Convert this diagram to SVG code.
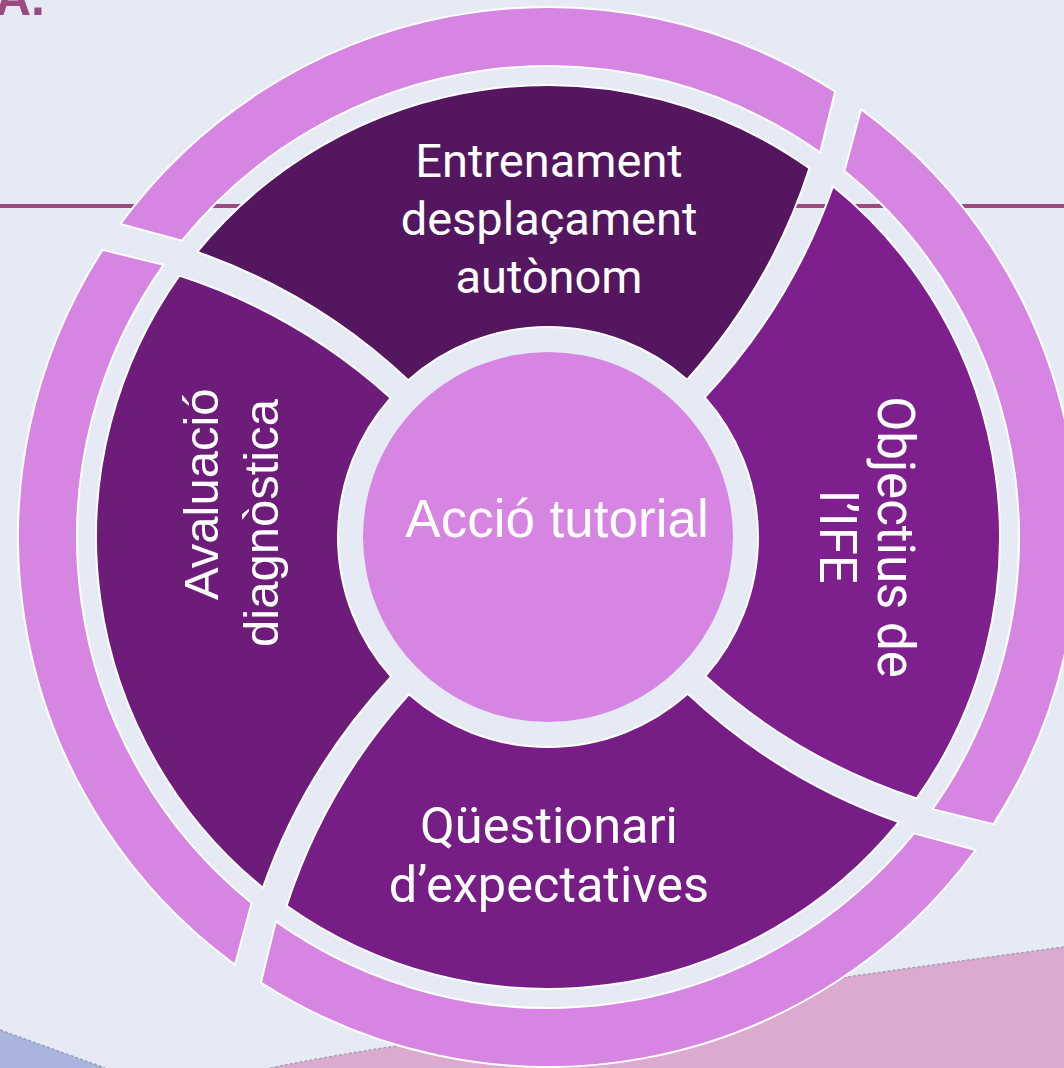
<svg xmlns="http://www.w3.org/2000/svg" width="1064" height="1068" viewBox="0 0 1064 1068">
<style>
.seg{stroke:#fff;stroke-width:2}
.ring{fill:#D685E2;stroke:#fff;stroke-width:2}
.rob{fill:#fff;font-family:Roboto,"Liberation Sans",sans-serif;font-size:47px;text-anchor:middle}
.big{font-size:50.5px}
.rt{font-size:51px}
.ari{fill:#fff;font-family:"Liberation Sans",Arial,sans-serif;font-size:49px}
</style>
<defs>
<path id="seg" d="M704.8,397.3 Q791.2,305.3 833.1,186.2 A452,452 0 0 1 916.7,798.4 Q798.0,759.8 705.3,676.1 A210,210 0 0 0 704.8,397.3 Z"/>
<path id="ringp" d="M844.4,171.0 L861.0,109.3 A530,530 0 0 1 993.5,824.1 L932.4,809.2 A471,471 0 0 0 844.4,171.0 Z"/>
</defs>
<g id="background">
<rect width="1064" height="1068" fill="#E6EAF5"/>
<path d="M0,1030 L105,1068 L0,1068 Z" fill="#AAB5DF"/>
<path d="M0,1030 L105,1068" fill="none" stroke="#9aa0b8" stroke-width="1.5" stroke-dasharray="3 2"/>
<path d="M270,1068 Q330,1056 390,1047 L847,977 Q960,961 1064,947 L1064,1068 Z" fill="#DBAACE"/>
<path d="M270,1068 Q330,1056 390,1047 L847,977 Q960,961 1064,947" fill="none" stroke="#a8a0b0" stroke-width="1.5" stroke-dasharray="3 2"/>
<line x1="0" y1="206" x2="1064" y2="206" stroke="#9B4B7F" stroke-width="4"/>
<text x="-5" y="15" font-family="'Liberation Sans',Arial,sans-serif" font-weight="bold" font-size="50" fill="#9B4B7F">A.</text>
</g>
<g id="ring">
<use href="#ringp" class="ring" transform="rotate(-90 548 537)"/>
<use href="#ringp" class="ring"/>
<use href="#ringp" class="ring" transform="rotate(90 548 537)"/>
<use href="#ringp" class="ring" transform="rotate(180 548 537)"/>
</g>
<g id="connectors"></g>
<g id="node-top">
<use href="#seg" class="seg" fill="#54165E" transform="rotate(-90 548 537)"/>
<text class="rob" x="549" y="177">Entrenament</text>
<text class="rob" x="549" y="235">desplaçament</text>
<text class="rob" x="549" y="293">autònom</text>
</g>
<g id="node-right">
<use href="#seg" class="seg" fill="#7E1F8E"/>
<text class="rob rt" transform="translate(878,537) rotate(90)">Objectius de</text>
<text class="rob rt" transform="translate(820,537) rotate(90)">l’IFE</text>
</g>
<g id="node-bottom">
<use href="#seg" class="seg" fill="#761E85" transform="rotate(90 548 537)"/>
<text class="rob big" x="549" y="843">Qüestionari</text>
<text class="rob big" x="549" y="902">d’expectatives</text>
</g>
<g id="node-left">
<use href="#seg" class="seg" fill="#6E1C7A" transform="rotate(180 548 537)"/>
<text class="ari" transform="translate(218,600) rotate(-90)">Avaluació</text>
<text class="ari" transform="translate(278,647) rotate(-90)">diagnòstica</text>
</g>
<g id="node-center">
<circle cx="548" cy="537" r="185" fill="#D685E2"/>
<text x="557" y="537" text-anchor="middle" font-family="'Liberation Sans',Arial,sans-serif" font-size="53" fill="#fff">Acció tutorial</text>
</g>
</svg>
